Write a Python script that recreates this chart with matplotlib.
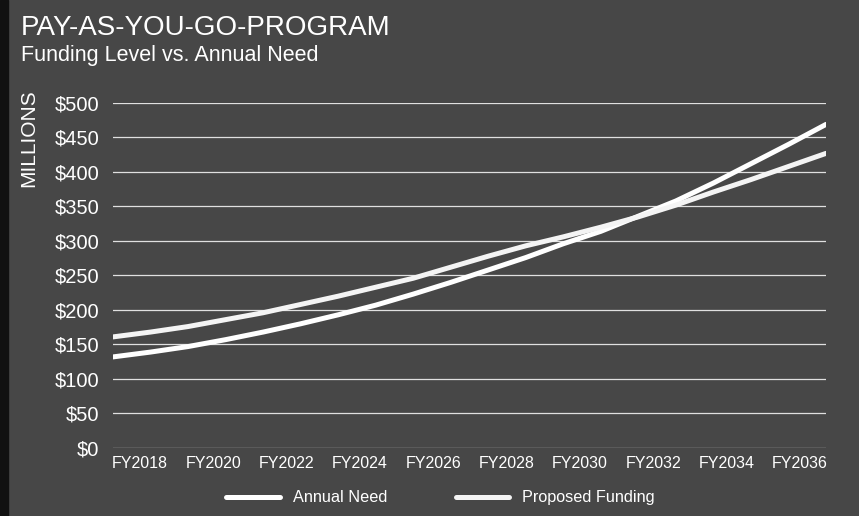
import matplotlib.pyplot as plt
import numpy as np

plt.rcParams['font.family'] = ['Liberation Sans', 'DejaVu Sans']

# fiscal years FY2018 .. FY2037, values in $ millions
years = list(range(2018, 2038))
annual_need = [132, 139, 147, 157, 168, 180, 193, 207, 223, 240,
               258, 276, 296, 314, 336, 358, 384, 412, 440, 469]
proposed_funding = [161, 168, 176, 186, 196, 208, 220, 233, 246, 262,
                    278, 293, 306, 320, 335, 352, 371, 389, 408, 427]
tick_labels = ["FY%d" % y for y in range(2018, 2037, 2)]
y_ticks = list(range(0, 501, 50))

bg = "#474747"
fig = plt.figure(figsize=(8.59, 5.16), dpi=100, facecolor=bg)
ax = fig.add_axes([0.1315, 0.1318, 0.8301, 0.6686])
ax.set_facecolor(bg)

# dark scan edge on the left
fig.patches.append(plt.Rectangle((0, 0), 0.009, 1, transform=fig.transFigure,
                                 color="#111111", zorder=0))

x = np.arange(len(years))
ax.plot(x, annual_need, color="white", lw=3.6, solid_capstyle="round", label="Annual Need", zorder=3)
ax.plot(x, proposed_funding, color="#f4f4f4", lw=3.6, solid_capstyle="round", label="Proposed Funding", zorder=3)

ax.set_xlim(0, len(years) - 1)
ax.set_ylim(0, 500)
ax.set_yticks(y_ticks)
ax.set_yticklabels(["$%d" % v for v in y_ticks], fontsize=14.5, color="white")
ax.yaxis.grid(True, color="#e0e0e0", lw=0.9)
ax.set_axisbelow(True)

# labels sit slightly inside the first and last category
ax.set_xticks(np.linspace(0.72, 18.3, len(tick_labels)))
ax.set_xticklabels(tick_labels, fontsize=11.5, color="white")
ax.tick_params(length=0, pad=6)
ax.tick_params(axis="y", pad=10)
for s in ax.spines.values():
    s.set_visible(False)

fig.text(0.024, 0.945, "PAY-AS-YOU-GO-PROGRAM", fontsize=20, color="white", va="center")
fig.text(0.024, 0.893, "Funding Level vs. Annual Need", fontsize=15.5, color="white", va="center")
fig.text(0.033, 0.733, "MILLIONS", fontsize=15, color="white", rotation=90, ha="center", va="center")

leg = fig.legend(loc="center", bbox_to_anchor=(0.513, 0.035), ncol=2, frameon=False,
                 fontsize=11.7, labelcolor="white", handlelength=3.3, columnspacing=4.2)

fig.savefig("out.png", dpi=100, facecolor=bg)
